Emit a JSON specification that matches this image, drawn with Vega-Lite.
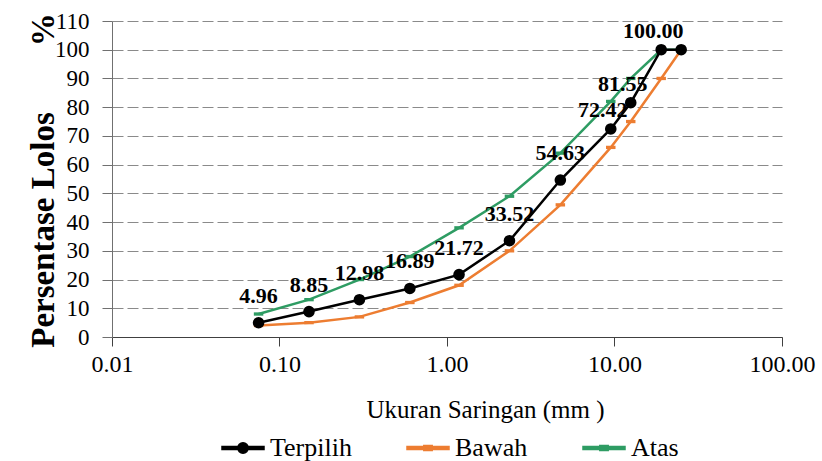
{
  "$schema": "https://vega.github.io/schema/vega-lite/v6.json",
  "autosize": {"type": "none"},
  "padding": {"left": 112, "top": 21, "right": 40, "bottom": 124},
  "width": 670,
  "height": 316,
  "background": "white",
  "config": {
    "font": "Times New Roman, Liberation Serif, serif",
    "view": {"stroke": null}
  },
  "data": {
    "values": [
      {"x": 0.075, "series": "Atas", "y": 8},
      {"x": 0.15, "series": "Atas", "y": 13},
      {"x": 0.3, "series": "Atas", "y": 20},
      {"x": 0.6, "series": "Atas", "y": 28},
      {"x": 1.18, "series": "Atas", "y": 38},
      {"x": 2.36, "series": "Atas", "y": 49},
      {"x": 4.75, "series": "Atas", "y": 64},
      {"x": 9.5, "series": "Atas", "y": 82},
      {"x": 12.5, "series": "Atas", "y": 90},
      {"x": 19, "series": "Atas", "y": 100},
      {"x": 25, "series": "Atas", "y": 100},
      {"x": 0.075, "series": "Bawah", "y": 4},
      {"x": 0.15, "series": "Bawah", "y": 5},
      {"x": 0.3, "series": "Bawah", "y": 7},
      {"x": 0.6, "series": "Bawah", "y": 12},
      {"x": 1.18, "series": "Bawah", "y": 18},
      {"x": 2.36, "series": "Bawah", "y": 30},
      {"x": 4.75, "series": "Bawah", "y": 46},
      {"x": 9.5, "series": "Bawah", "y": 66},
      {"x": 12.5, "series": "Bawah", "y": 75},
      {"x": 19, "series": "Bawah", "y": 90},
      {"x": 25, "series": "Bawah", "y": 100},
      {"x": 0.075, "series": "Terpilih", "y": 4.96},
      {"x": 0.15, "series": "Terpilih", "y": 8.85},
      {"x": 0.3, "series": "Terpilih", "y": 12.98},
      {"x": 0.6, "series": "Terpilih", "y": 16.89},
      {"x": 1.18, "series": "Terpilih", "y": 21.72},
      {"x": 2.36, "series": "Terpilih", "y": 33.52},
      {"x": 4.75, "series": "Terpilih", "y": 54.63},
      {"x": 9.5, "series": "Terpilih", "y": 72.42},
      {"x": 12.5, "series": "Terpilih", "y": 81.55},
      {"x": 19, "series": "Terpilih", "y": 100},
      {"x": 25, "series": "Terpilih", "y": 100}
    ]
  },
  "encoding": {
    "x": {
      "field": "x", "type": "quantitative",
      "scale": {"type": "log", "domain": [0.01, 100], "nice": false},
      "axis": {
        "title": "Ukuran Saringan (mm )",
        "values": [0.01, 0.1, 1, 10, 100],
        "format": ".2f",
        "grid": false,
        "domainColor": "#404040",
        "domainWidth": 1.2,
        "tickColor": "#404040",
        "tickSize": 9,
        "labelFont": "Times New Roman, Liberation Serif, serif",
        "labelFontSize": 24,
        "labelFontWeight": 400,
        "labelColor": "#000000",
        "labelPadding": 6,
        "labelFlush": false,
        "titleFont": "Times New Roman, Liberation Serif, serif",
        "titleFontSize": 25,
        "titleFontWeight": 400,
        "titleColor": "#000000",
        "titleX": 373,
        "titleY": 80,
        "titleBaseline": "alphabetic",
        "titleAlign": "center"
      }
    },
    "y": {
      "field": "y", "type": "quantitative",
      "scale": {"domain": [0, 110], "nice": false},
      "axis": {
        "title": "Persentase Lolos\u00a0\u00a0\u00a0\u00a0\u00a0\u00a0\u00a0\u00a0%",
        "values": [0, 10, 20, 30, 40, 50, 60, 70, 80, 90, 100, 110],
        "grid": true,
        "gridColor": "#8a8a8a",
        "gridDash": [11, 4],
        "gridWidth": 1,
        "domainColor": "#707070",
        "tickColor": "#707070",
        "tickSize": 10,
        "labelFont": "Times New Roman, Liberation Serif, serif",
        "labelFontSize": 23,
        "labelFontWeight": 400,
        "labelColor": "#000000",
        "labelPadding": 13,
        "labelFlush": false,
        "titleFont": "Times New Roman, Liberation Serif, serif",
        "titleFontSize": 33,
        "titleFontWeight": "bold",
        "titleColor": "#000000",
        "titleAngle": -90,
        "titleX": -59,
        "titleY": 159,
        "titleAlign": "center",
        "titleBaseline": "alphabetic"
      }
    }
  },
  "layer": [
    {
      "mark": {"type": "line", "strokeWidth": 2.5},
      "encoding": {
        "color": {
          "field": "series", "type": "nominal",
          "scale": {"domain": ["Terpilih", "Bawah", "Atas"], "range": ["#000000", "#ED7D31", "#2E9C63"]},
          "legend": {
            "title": null,
            "orient": "none",
            "direction": "horizontal",
            "legendX": 109,
            "legendY": 405,
            "labelFont": "Times New Roman, Liberation Serif, serif",
            "labelFontSize": 26,
            "labelFontWeight": 400,
            "labelColor": "#000000",
            "labelOffset": 5,
            "columnPadding": 52,
            "symbolSize": 1764,
            "encode": {
              "symbols": {
                "update": {
                  "shape": {"signal": "datum.value === 'Terpilih' ? 'M-1,-0.07H1V0.07H-1Z M0.25,0A0.25,0.25 0 1,1 -0.25,0A0.25,0.25 0 1,1 0.25,0Z' : 'M-1,-0.07H1V0.07H-1Z M-0.2,-0.12H0.2V0.12H-0.2Z'"},
                  "fill": {"scale": "color", "field": "value"},
                  "stroke": {"value": "transparent"},
                  "size": {"value": 1764},
                  "opacity": {"value": 1}
                }
              }
            }
          }
        }
      }
    },
    {
      "transform": [{"filter": "datum.series === 'Bawah'"}],
      "mark": {"type": "point", "shape": "M-1,-0.35H1V0.35H-1Z", "filled": true, "size": 90, "color": "#ED7D31", "opacity": 1},
      "encoding": {}
    },
    {
      "transform": [{"filter": "datum.series === 'Atas'"}],
      "mark": {"type": "point", "shape": "M-1,-0.35H1V0.35H-1Z", "filled": true, "size": 90, "color": "#2E9C63", "opacity": 1},
      "encoding": {}
    },
    {
      "transform": [{"filter": "datum.series === 'Terpilih'"}],
      "mark": {"type": "point", "shape": "circle", "filled": true, "size": 135, "color": "#000000", "opacity": 1},
      "encoding": {}
    },
    {
      "transform": [{"filter": "datum.series === 'Terpilih' && datum.x < 9"}],
      "mark": {"type": "text", "font": "Times New Roman, Liberation Serif, serif", "fontSize": 22, "fontWeight": "bold", "color": "#000000", "align": "center", "baseline": "alphabetic", "dy": -20},
      "encoding": {"text": {"field": "y", "type": "quantitative", "format": ".2f"}}
    },
    {
      "transform": [{"filter": "datum.series === 'Terpilih' && datum.x > 9 && datum.x < 20"}],
      "mark": {"type": "text", "font": "Times New Roman, Liberation Serif, serif", "fontSize": 22, "fontWeight": "bold", "color": "#000000", "align": "center", "baseline": "alphabetic", "dx": -8, "dy": -12},
      "encoding": {"text": {"field": "y", "type": "quantitative", "format": ".2f"}}
    }
  ]
}
